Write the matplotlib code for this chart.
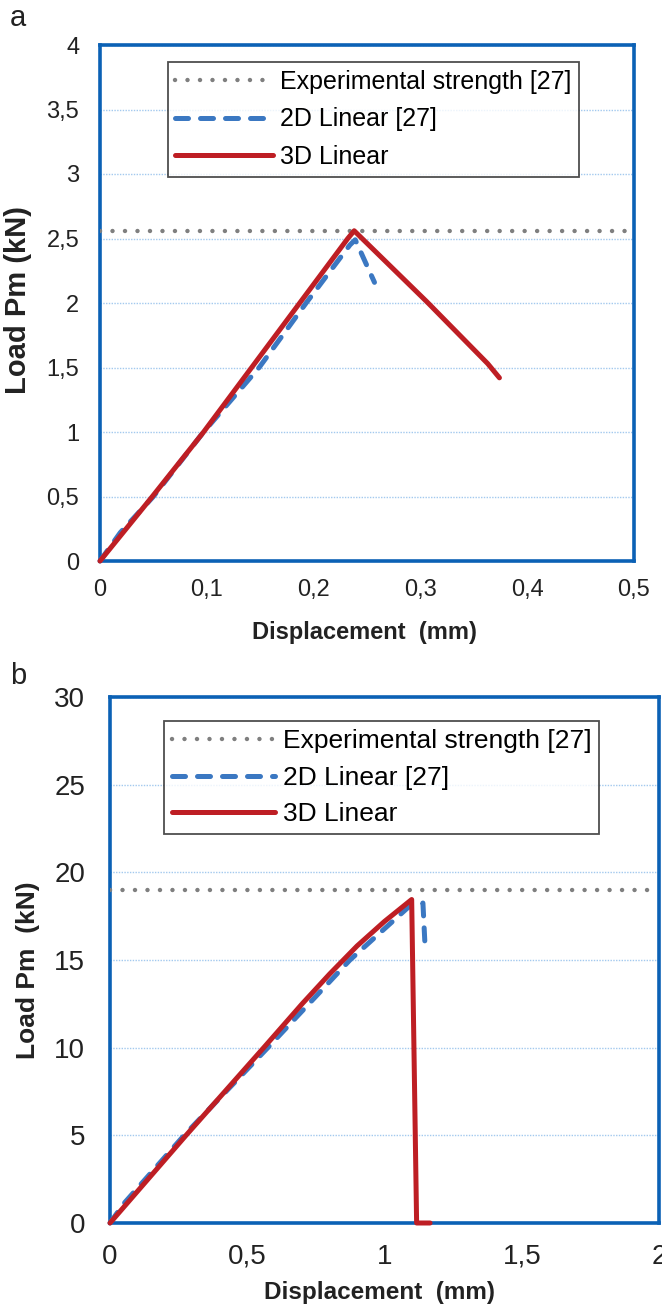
import matplotlib
matplotlib.use('Agg')
import matplotlib.pyplot as plt

plt.rcParams['font.family'] = ['Liberation Sans', 'DejaVu Sans']

# panel a
disp_3d_a = [0, 0.049, 0.097, 0.142, 0.187, 0.232, 0.238, 0.306, 0.363, 0.374]
load_3d_a = [0, 0.5, 1.0, 1.5, 2.0, 2.5, 2.56, 2.01, 1.53, 1.42]
disp_2d_a = [0, 0.019, 0.05, 0.097, 0.149, 0.193, 0.234, 0.239, 0.257]
load_2d_a = [0, 0.22, 0.5, 1.0, 1.5, 2.0, 2.45, 2.49, 2.16]
exp_a = 2.56
xticks_a = [0, 0.1, 0.2, 0.3, 0.4, 0.5]
xlabels_a = ['0', '0,1', '0,2', '0,3', '0,4', '0,5']
yticks_a = [0, 0.5, 1, 1.5, 2, 2.5, 3, 3.5, 4]
ylabels_a = ['0', '0,5', '1', '1,5', '2', '2,5', '3', '3,5', '4']

# panel b
disp_3d_b = [0, 0.277, 0.56, 0.70, 0.80, 0.90, 1.0, 1.099, 1.117, 1.166]
load_3d_b = [0, 5, 10, 12.5, 14.2, 15.8, 17.2, 18.45, 0, 0]
disp_2d_b = [0, 0.05, 0.27, 0.575, 0.874, 1.086, 1.14, 1.148]
load_2d_b = [0, 1.1, 5, 10, 15, 18.0, 18.25, 15.7]
exp_b = 19
xticks_b = [0, 0.5, 1, 1.5, 2]
xlabels_b = ['0', '0,5', '1', '1,5', '2']
yticks_b = [0, 5, 10, 15, 20, 25, 30]
ylabels_b = ['0', '5', '10', '15', '20', '25', '30']

W, H = 662, 1311
fig = plt.figure(figsize=(W / 100, H / 100), dpi=100)

spine_col = '#0b61b5'
grid_col = '#a3c9ee'
red = '#be1e24'
blue = '#3b78c2'
grey = '#7f7f7f'
txt = '#222222'


def px(x0, y0, x1, y1):
    return [x0 / W, 1 - y1 / H, (x1 - x0) / W, (y1 - y0) / H]


def panel(rect, xs3, ys3, xs2, ys2, exp, xt, xl, yt, yl, xmax, ymax,
          tick_fs, ypad, xpad, leg_anchor, leg_fs, leg_sp):
    ax = fig.add_axes(rect)
    ax.axhline(exp, color=grey, lw=3.2, linestyle=(0, (0.01, 2.8)),
               dash_capstyle='round', label='Experimental strength [27]', zorder=3)
    ax.plot(xs2, ys2, color=blue, lw=3.6, linestyle=(0, (2.6, 2.4)),
            dash_capstyle='round', label='2D Linear [27]', zorder=3, clip_on=False)
    ax.plot(xs3, ys3, color=red, lw=3.6, solid_capstyle='round',
            solid_joinstyle='round', label='3D Linear', zorder=4, clip_on=False)
    ax.set_xlim(0, xmax)
    ax.set_ylim(0, ymax)
    ax.set_xticks(xt)
    ax.set_xticklabels(xl)
    ax.set_yticks(yt)
    ax.set_yticklabels(yl)
    ax.tick_params(axis='x', length=0, labelsize=tick_fs, pad=xpad, colors=txt)
    ax.tick_params(axis='y', length=0, labelsize=tick_fs, pad=ypad, colors=txt)
    ax.yaxis.grid(True, color=grid_col, linestyle=(0, (1, 1)), lw=1)
    ax.set_axisbelow(True)
    for s in ax.spines.values():
        s.set_color(spine_col)
        s.set_linewidth(2.6)
    leg = ax.legend(loc='upper left', bbox_to_anchor=leg_anchor, borderaxespad=0,
                    fontsize=leg_fs, frameon=True, fancybox=False, handlelength=3.9,
                    handletextpad=0.3, labelspacing=leg_sp, borderpad=0.3)
    leg.get_frame().set_edgecolor(txt)
    leg.get_frame().set_linewidth(1.3)
    return ax


ax1 = panel(px(100, 45, 634, 561), disp_3d_a, load_3d_a, disp_2d_a, load_2d_a, exp_a,
            xticks_a, xlabels_a, yticks_a, ylabels_a, 0.5, 4, 17, 15, 13,
            (0.127, 0.967), 18, 0.55)
ax2 = panel(px(110, 697, 659, 1223), disp_3d_b, load_3d_b, disp_2d_b, load_2d_b, exp_b,
            xticks_b, xlabels_b, yticks_b, ylabels_b, 2, 30, 20, 18, 15,
            (0.098, 0.954), 19, 0.48)

fig.text(18 / W, 1 - 300 / H, 'Load Pm (kN)', rotation=90, ha='center', va='center',
         fontsize=21, fontweight='bold', color=txt)
fig.text(364 / W, 1 - 632 / H, 'Displacement  (mm)', ha='center', va='center',
         fontsize=17, fontweight='bold', color=txt)
fig.text(28 / W, 1 - 970 / H, 'Load Pm  (kN)', rotation=90, ha='center', va='center',
         fontsize=19, fontweight='bold', color=txt)
fig.text(380 / W, 1 - 1293 / H, 'Displacement  (mm)', ha='center', va='center',
         fontsize=17.5, fontweight='bold', color=txt)
fig.text(18 / W, 1 - 18 / H, 'a', ha='center', va='center', fontsize=21, color=txt)
fig.text(18 / W, 1 - 676 / H, 'b', ha='center', va='center', fontsize=21, color=txt)

fig.savefig('out.png', dpi=100)
